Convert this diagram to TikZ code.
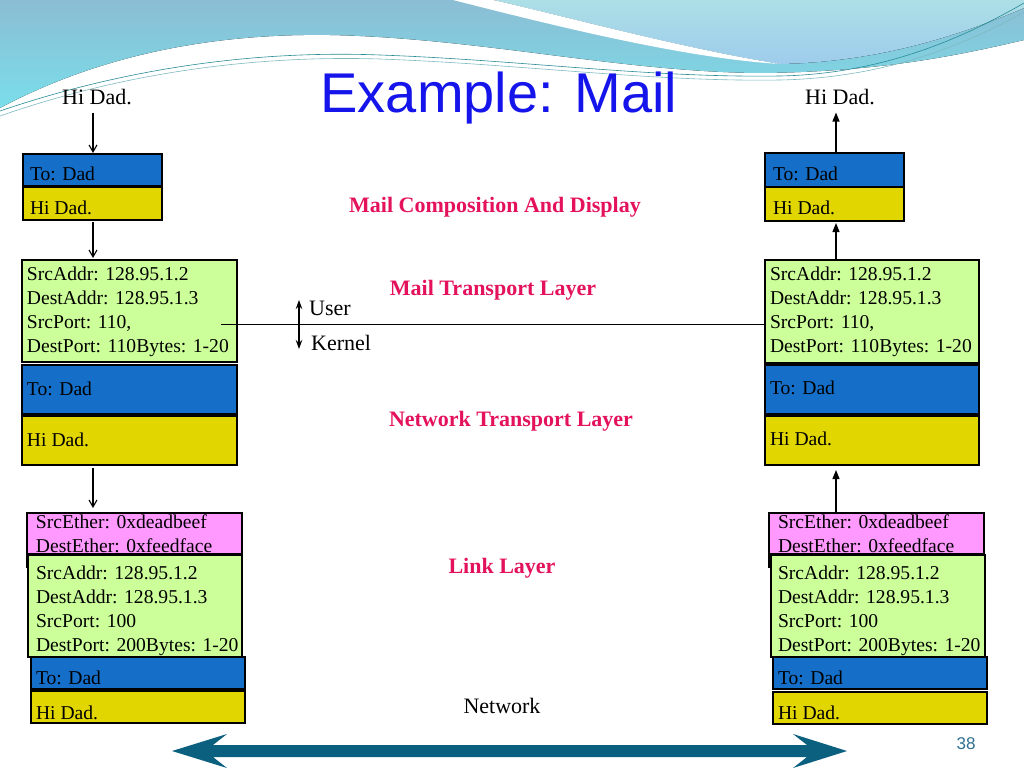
\documentclass[tikz,border=0pt]{standalone}
\usepackage{fontspec}
\setmainfont{Liberation Serif}
\newfontfamily\sansf{Liberation Sans}
\usetikzlibrary{arrows.meta,calc}

\definecolor{pblue}{RGB}{21,111,201}
\definecolor{pyellow}{RGB}{226,214,0}
\definecolor{pgreen}{RGB}{204,255,153}
\definecolor{ppink}{RGB}{255,153,255}
\definecolor{lblred}{RGB}{228,18,92}
\definecolor{ttlblue}{RGB}{20,20,235}
\definecolor{netteal}{RGB}{10,96,126}
\definecolor{bgtop}{RGB}{139,189,212}
\definecolor{bgbot}{RGB}{122,222,234}
\definecolor{ltop}{RGB}{172,223,230}
\definecolor{lbot}{RGB}{158,204,236}
\definecolor{thinln}{RGB}{40,140,150}
\definecolor{numc}{RGB}{47,111,143}

% box content: width, height, left inset, first baseline offset, text
\newcommand\bx[5]{\parbox[c][#2pt][t]{#1pt}{\raggedright\leftskip=#3pt\relax
  \vspace*{\dimexpr#4pt-\ht\strutbox\relax}\strut #5}}

\tikzset{
  pkt/.style={draw=black, line width=1.1pt, inner sep=0pt, outer sep=0pt,
    anchor=north west, font=\fontsize{19.6}{24}\selectfont},
  lbl/.style={font=\bfseries\fontsize{22}{26}\selectfont, text=lblred, inner sep=0pt, anchor=base},
  plaintxt/.style={font=\fontsize{22}{26}\selectfont, inner sep=0pt, anchor=base},
  dnarrow/.style={-{Straight Barb[length=7pt,width=8pt]}, line width=1.1pt},
  uparrow/.style={-{Triangle[length=9pt,width=7pt]}, line width=1.1pt},
}

\begin{document}
\begin{tikzpicture}[x=1pt,y=-1pt]
\useasboundingbox (0,0) rectangle (1024,768);
\fill[white] (0,0) rectangle (1024,768);

% background waves
\fill[top color=bgtop, bottom color=bgbot] (0,0) -- (1024,0) -- (1024,40)
  .. controls (960,55) and (880,72) .. (760,73)
  .. controls (620,72) and (480,38) .. (330,35)
  .. controls (200,33) and (90,60) .. (0,108) -- cycle;
\fill[top color=ltop, bottom color=lbot] (493,0)
  .. controls (560,15) and (680,48) .. (780,64)
  .. controls (880,62) and (960,35) .. (1024,8) -- (1024,0) -- cycle;
\fill[white] (453,0) .. controls (540,22) and (680,58) .. (780,64)
  .. controls (680,48) and (560,15) .. (493,0) -- cycle;
\draw[thinln, line width=0.6pt] (0,111) .. controls (120,70) and (250,50) .. (380,55)
  .. controls (520,60) and (650,78) .. (780,76) .. controls (880,74) and (960,40) .. (1024,3);
\draw[thinln!60!white, line width=0.6pt] (0,116) .. controls (120,74) and (250,55) .. (380,59)
  .. controls (520,64) and (650,82) .. (780,80) .. controls (880,78) and (960,48) .. (1024,12);

% title and page number
\node[font=\sansf\fontsize{56}{60}\selectfont, text=ttlblue, anchor=base, inner sep=0pt] (title) at (499,112) {Example: Mail};
\node[font=\sansf\fontsize{17}{20}\selectfont, text=numc, anchor=base, inner sep=0pt] (pgno) at (966,749) {38};

% top texts
\node[plaintxt] (hiL) at (97,104) {Hi Dad.};
\node[plaintxt] (hiR) at (840,104) {Hi Dad.};

% layer labels
\node[lbl] (lcomp) at (495,212) {Mail Composition And Display};
\node[lbl] (ltrans) at (493,295) {Mail Transport Layer};
\node[lbl] (lnet) at (511,426) {Network Transport Layer};
\node[lbl] (llink) at (502,573) {Link Layer};
\node[plaintxt] (lnetw) at (502,713) {Network};
\node[plaintxt, anchor=base west] (user) at (309,315) {User};
\node[plaintxt, anchor=base west] (kern) at (311,350) {Kernel};

% left stack
\node[pkt, fill=pblue] (b1) at (23,154) {\bx{139}{32}{7}{26}{To: Dad}};
\node[pkt, fill=pyellow] (y1) at (23,187) {\bx{139}{33}{7}{27}{Hi Dad.}};
\node[pkt, fill=pgreen] (g1) at (22,260) {\bx{215}{102}{5}{20}{SrcAddr: 128.95.1.2\\DestAddr: 128.95.1.3\\SrcPort: 110,\\DestPort: 110Bytes: 1-20}};
\node[pkt, fill=pblue] (b2) at (22,365) {\bx{215}{49}{5}{30}{To: Dad}};
\node[pkt, fill=pyellow] (y2) at (22,416) {\bx{215}{49}{5}{30}{Hi Dad.}};
\node[pkt, fill=ppink] (p1) at (27,513) {\bx{215}{41}{9}{15}{SrcEther: 0xdeadbeef\\DestEther: 0xfeedface}};
\draw[line width=1.1pt] (p1.south west) -- ++(0,14);
\node[pkt, fill=pgreen] (g2) at (28,555) {\bx{214}{102}{8}{24}{SrcAddr: 128.95.1.2\\DestAddr: 128.95.1.3\\SrcPort: 100\\DestPort: 200Bytes: 1-20}};
\node[pkt, fill=pblue] (b3) at (31,657) {\bx{214}{32}{5}{27}{To: Dad}};
\node[pkt, fill=pyellow] (y3) at (31,691) {\bx{214}{32}{5}{28}{Hi Dad.}};

% right stack
\node[pkt, fill=pblue] (B1) at (765,153) {\bx{139}{34}{8}{27}{To: Dad}};
\node[pkt, fill=pyellow] (Y1) at (765,187) {\bx{139}{34}{8}{27}{Hi Dad.}};
\node[pkt, fill=pgreen] (G1) at (765,260) {\bx{214}{103}{5}{20}{SrcAddr: 128.95.1.2\\DestAddr: 128.95.1.3\\SrcPort: 110,\\DestPort: 110Bytes: 1-20}};
\node[pkt, fill=pblue] (B2) at (765,365) {\bx{214}{49}{5}{29}{To: Dad}};
\node[pkt, fill=pyellow] (Y2) at (765,416) {\bx{214}{49}{5}{29}{Hi Dad.}};
\node[pkt, fill=ppink] (P1) at (769,513) {\bx{215}{41}{9}{15}{SrcEther: 0xdeadbeef\\DestEther: 0xfeedface}};
\draw[line width=1.1pt] (P1.south west) -- ++(0,14);
\node[pkt, fill=pgreen] (G2) at (771,555) {\bx{214}{102}{7}{24}{SrcAddr: 128.95.1.2\\DestAddr: 128.95.1.3\\SrcPort: 100\\DestPort: 200Bytes: 1-20}};
\node[pkt, fill=pblue] (B3) at (773,657) {\bx{214}{32}{5}{27}{To: Dad}};
\node[pkt, fill=pyellow] (Y3) at (773,692) {\bx{214}{32}{5}{27}{Hi Dad.}};

% vertical arrows
\coordinate (aL) at (93,0);
\coordinate (aR) at (836,0);
\draw[dnarrow, shorten <=8pt, shorten >=1pt] (hiL.south -| aL) -- (b1.north -| aL);
\draw[dnarrow, shorten <=2pt, shorten >=2pt] (y1.south -| aL) -- (g1.north -| aL);
\draw[dnarrow, shorten <=3pt, shorten >=5pt] (y2.south -| aL) -- (p1.north -| aL);
\draw[uparrow, shorten >=8pt] (B1.north -| aR) -- (hiR.south -| aR);
\draw[uparrow, shorten >=2pt] (G1.north -| aR) -- (Y1.south -| aR);
\draw[uparrow, shorten >=5pt] (P1.north -| aR) -- (Y2.south -| aR);

% user / kernel boundary
\coordinate (ukT) at (299,300);
\coordinate (ukB) at (299,349);
\draw[{Stealth[length=9pt,width=6.5pt]}-{Stealth[length=9pt,width=6.5pt]}, line width=1.1pt] (ukT) -- (ukB);
\coordinate (hlS) at (221,324);
\draw[line width=1pt] (hlS) -- (hlS -| G1.west);

% network double arrow
\fill[netteal] (172,751) -- (227,734) -- (213,745) -- (807,745) -- (793,734) -- (847,751)
  -- (793,768) -- (807,757) -- (213,757) -- (227,768) -- cycle;
\end{tikzpicture}
\end{document}
